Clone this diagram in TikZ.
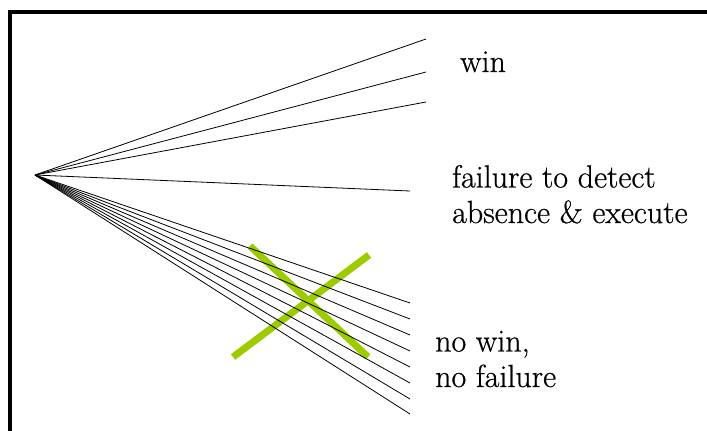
\documentclass[tikz,border=0pt]{standalone}
\usepackage{fontspec}
\setmainfont{Latin Modern Roman}[SizeFeatures={{Font=Latin Modern Roman, Size=-}},FakeBold=0.6]
\definecolor{crossgreen}{RGB}{158,202,0}
\begin{document}
\begin{tikzpicture}[x=1pt,y=-1pt,
  branch/.style={black,line width=0.8pt},
  cross/.style={crossgreen,line width=7pt,line cap=butt},
  frame/.style={black,line width=4pt},
  label/.style={anchor=base west,inner sep=0pt,align=left,font=\fontsize{32}{35.5}\selectfont}]
\useasboundingbox (0,0) rectangle (707,431);
% frame (only left and top edges are visible)
\draw[frame] (10,431) -- (10,12) -- (707,12);
% green cross
\coordinate (c1a) at (250,246);
\coordinate (c1b) at (368,357);
\coordinate (c2a) at (233,357);
\coordinate (c2b) at (369,255);
\draw[cross] (c1a) -- (c1b);
\draw[cross] (c2a) -- (c2b);
% fan of branches
\coordinate (apex) at (35,175);
\coordinate (w1) at (426,39);
\coordinate (w2) at (426,72);
\coordinate (w3) at (426,102);
\coordinate (f1) at (410,191);
\foreach \i/\y in {1/303,2/319,3/335,4/351,5/367,6/383,7/399,8/414}
  \coordinate (n\i) at (410,\y);
\foreach \e in {w1,w2,w3,f1,n1,n2,n3,n4,n5,n6,n7,n8}
  \draw[branch] (apex) -- (\e);
% labels (base anchor = baseline of the last line)
\node[label] (win) at (460,72) {win};
\node[label] (fail) at (452,223) {failure to detect\\absence \& execute};
\node[label] (nowin) at (435,387) {no win,\\no failure};
\end{tikzpicture}
\end{document}
